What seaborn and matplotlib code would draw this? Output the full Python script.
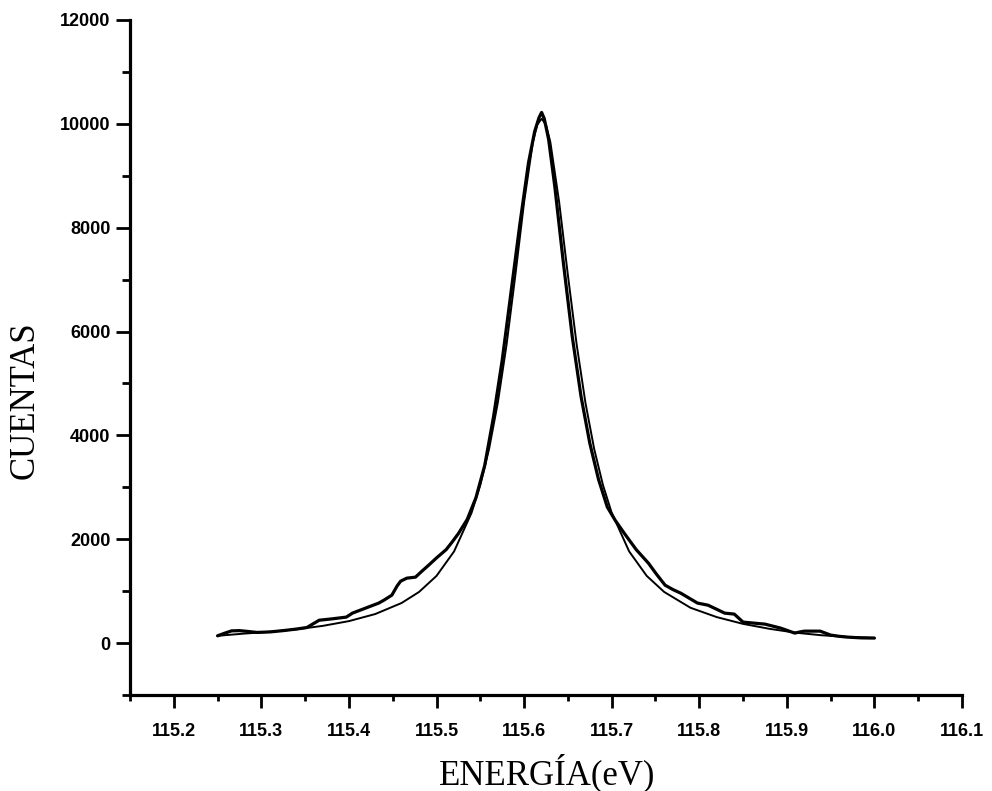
import matplotlib
matplotlib.use("Agg")
import matplotlib.pyplot as plt
from matplotlib.ticker import FixedLocator
import seaborn as sns
import pandas as pd

# Measured spectrum (energy in eV, counts)
energy_data = [115.250, 115.258, 115.266, 115.275, 115.284, 115.295, 115.310, 115.325,
               115.340, 115.352, 115.360, 115.366, 115.380, 115.397, 115.404, 115.420,
               115.434, 115.440, 115.449, 115.455, 115.459, 115.466, 115.476, 115.483,
               115.491, 115.500, 115.511, 115.518, 115.525, 115.535, 115.545, 115.555,
               115.565, 115.575, 115.585, 115.595, 115.605, 115.612, 115.617, 115.620,
               115.623, 115.628, 115.635, 115.645, 115.655, 115.665, 115.675, 115.685,
               115.695, 115.704, 115.715, 115.728, 115.742, 115.751, 115.761, 115.770,
               115.779, 115.790, 115.798, 115.810, 115.820, 115.829, 115.840, 115.850,
               115.862, 115.875, 115.893, 115.909, 115.915, 115.920, 115.938, 115.950,
               115.960, 115.969, 115.985, 116.000]
counts_data = [140, 190, 235, 240, 225, 205, 215, 240,
               270, 300, 380, 440, 465, 500, 577, 680,
               770, 827, 923, 1100, 1192, 1250, 1270, 1380,
               1500, 1640, 1800, 1950, 2110, 2380, 2800, 3420,
               4350, 5450, 6750, 8050, 9250, 9850, 10120, 10220,
               10100, 9700, 8800, 7300, 5900, 4750, 3850, 3150,
               2620, 2365, 2100, 1800, 1538, 1330, 1115, 1030,
               960, 850, 770, 730, 650, 577, 558, 404,
               385, 365, 288, 192, 215, 230, 230, 154,
               130, 115, 100, 96]

# Fitted profile
energy_fit = [115.25, 115.28, 115.31, 115.34, 115.37, 115.40, 115.43, 115.46, 115.48,
              115.50, 115.52, 115.54, 115.55, 115.56, 115.57, 115.58, 115.59, 115.60,
              115.61, 115.615, 115.62, 115.625, 115.63, 115.64, 115.65, 115.66, 115.67,
              115.68, 115.69, 115.70, 115.72, 115.74, 115.76, 115.79, 115.82, 115.85,
              115.88, 115.91, 115.94, 115.97, 116.00]
counts_fit = [140, 182, 218, 265, 331, 423, 559, 771, 984,
              1294, 1764, 2509, 3046, 3739, 4631, 5751, 7086, 8494,
              9644, 9982, 10100, 9982, 9644, 8494, 7086, 5751, 4631,
              3739, 3046, 2509, 1764, 1294, 984, 680, 500, 370,
              275, 200, 150, 118, 100]

x_major = [115.2, 115.3, 115.4, 115.5, 115.6, 115.7, 115.8, 115.9, 116.0, 116.1]
x_labels = ["115.2", "115.3", "115.4", "115.5", "115.6", "115.7", "115.8", "115.9", "116.0", "116.1"]
y_major = [0, 2000, 4000, 6000, 8000, 10000, 12000]

sns.set_style("ticks")
plt.rcParams["font.family"] = ["Liberation Sans", "DejaVu Sans"]
plt.rcParams["text.color"] = "black"

fig = plt.figure(figsize=(9.92, 7.91), dpi=100)
ax = fig.add_axes([130 / 992, 1 - 695 / 791, (962 - 130) / 992, (695 - 20) / 791])

df_data = pd.DataFrame({"E": energy_data, "N": counts_data})
df_fit = pd.DataFrame({"E": energy_fit, "N": counts_fit})
sns.lineplot(data=df_data, x="E", y="N", ax=ax, color="black", lw=2.3, estimator=None)
sns.lineplot(data=df_fit, x="E", y="N", ax=ax, color="black", lw=1.4, estimator=None)

ax.set_xlim(115.15, 116.1)
ax.set_ylim(-1000, 12000)
ax.xaxis.set_major_locator(FixedLocator(x_major))
ax.set_xticklabels(x_labels)
ax.xaxis.set_minor_locator(FixedLocator([115.15 + 0.1 * i for i in range(10)]))
ax.yaxis.set_major_locator(FixedLocator(y_major))
ax.set_yticklabels([str(v) for v in y_major])
ax.yaxis.set_minor_locator(FixedLocator([-1000 + 2000 * i for i in range(7)]))

for s in ["top", "right"]:
    ax.spines[s].set_visible(False)
for s in ["left", "bottom"]:
    ax.spines[s].set_linewidth(2.3)
    ax.spines[s].set_color("black")

ax.tick_params(axis="x", which="major", length=9, width=2.0, pad=11, labelsize=13,
               colors="black", labelcolor="black")
ax.tick_params(axis="x", which="minor", length=4, width=2.0, colors="black")
ax.tick_params(axis="y", which="major", length=10, width=2.0, pad=4, labelsize=13,
               colors="black", labelcolor="black")
ax.tick_params(axis="y", which="minor", length=6, width=2.0, colors="black")
for lab in ax.get_xticklabels() + ax.get_yticklabels():
    lab.set_fontweight("bold")

ax.set_xlabel("")
ax.set_ylabel("")
fig.text(547 / 992, 1 - 784 / 791, "ENERGÍA(eV)", ha="center", va="baseline",
         fontsize=25, color="black", family=["Liberation Serif", "DejaVu Serif"])
fig.text(25 / 992, 1 - 400 / 791, "CUENTAS", ha="center", va="center", rotation=90,
         fontsize=25, color="black", family=["Liberation Serif", "DejaVu Serif"])

fig.savefig("out.png", dpi=100)
